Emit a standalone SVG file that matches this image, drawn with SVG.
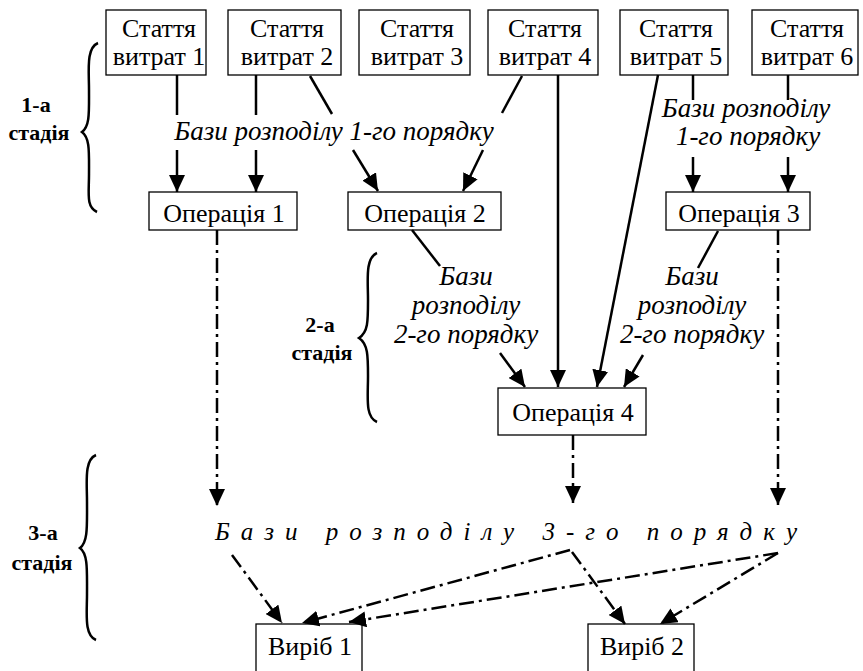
<svg xmlns="http://www.w3.org/2000/svg" width="863" height="671" viewBox="0 0 863 671">
  <style>
    .box { fill: #fff; stroke: #000; stroke-width: 1.3; }
    text { font-family: "Liberation Serif", "Times New Roman", serif; fill: #000; }
    .t { font-size: 26px; text-anchor: middle; }
    .it { font-size: 27px; font-style: italic; text-anchor: middle; }
    .st { font-size: 22px; font-weight: bold; text-anchor: middle; }
    .ln { stroke: #000; stroke-width: 2.5; fill: none; }
    .dd { stroke: #000; stroke-width: 2.5; fill: none; stroke-dasharray: 15 5 3 5; }
    .arr { marker-end: url(#ah); }
    .brace { stroke: #000; stroke-width: 2.5; fill: none; }
  </style>
  <defs>
    <marker id="ah" markerUnits="userSpaceOnUse" markerWidth="17" markerHeight="16" viewBox="0 0 17 16" refX="17" refY="8" orient="auto">
      <path d="M0,0 L17,8 L0,16 z" fill="#000"/>
    </marker>
  </defs>
  <rect width="863" height="671" fill="#fff"/>

  <!-- cost items -->
  <g id="n-st1"><rect class="box" x="106" y="10" width="100" height="65"/><text class="t" x="159" y="37">Стаття</text><text class="t" x="159" y="65">витрат 1</text></g>
  <g id="n-st2"><rect class="box" x="228" y="10" width="113" height="65"/><text class="t" x="287" y="37">Стаття</text><text class="t" x="287" y="65">витрат 2</text></g>
  <g id="n-st3"><rect class="box" x="359" y="10" width="111" height="65"/><text class="t" x="417" y="37">Стаття</text><text class="t" x="417" y="65">витрат 3</text></g>
  <g id="n-st4"><rect class="box" x="488" y="10" width="110" height="65"/><text class="t" x="545" y="37">Стаття</text><text class="t" x="545" y="65">витрат 4</text></g>
  <g id="n-st5"><rect class="box" x="620" y="10" width="108" height="65"/><text class="t" x="676" y="37">Стаття</text><text class="t" x="676" y="65">витрат 5</text></g>
  <g id="n-st6"><rect class="box" x="752" y="10" width="106" height="65"/><text class="t" x="807" y="37">Стаття</text><text class="t" x="807" y="65">витрат 6</text></g>

  <!-- operations -->
  <g id="n-op1"><rect class="box" x="149" y="192" width="148" height="38"/><text class="t" x="224" y="222">Операція 1</text></g>
  <g id="n-op2"><rect class="box" x="348" y="192" width="153" height="38"/><text class="t" x="425" y="222">Операція 2</text></g>
  <g id="n-op3"><rect class="box" x="666" y="192" width="144" height="38"/><text class="t" x="739" y="222">Операція 3</text></g>
  <g id="n-op4"><rect class="box" x="498" y="388" width="148" height="47"/><text class="t" x="573" y="421">Операція 4</text></g>

  <!-- products -->
  <g id="n-vyrib1"><rect class="box" x="256" y="624" width="106" height="52"/><text class="t" x="310" y="655">Виріб 1</text></g>
  <g id="n-vyrib2"><rect class="box" x="588" y="624" width="106" height="52"/><text class="t" x="642" y="655">Виріб 2</text></g>

  <!-- allocation base labels -->
  <g id="labels">
    <text class="it" x="334" y="140">Бази розподілу 1-го порядку</text>
    <text class="it" x="746" y="117">Бази розподілу</text>
    <text class="it" x="748" y="145">1-го порядку</text>
    <text class="it" x="466" y="285">Бази</text>
    <text class="it" x="466" y="314">розподілу</text>
    <text class="it" x="466" y="343">2-го порядку</text>
    <text class="it" x="692" y="285">Бази</text>
    <text class="it" x="692" y="314">розподілу</text>
    <text class="it" x="692" y="343">2-го порядку</text>
    <text class="it" x="215" y="540" style="text-anchor:start;font-size:25px" textLength="582" lengthAdjust="spacing">Бази розподілу 3-го порядку</text>
  </g>

  <!-- stage labels with braces -->
  <g id="stages">
    <text class="st" x="36" y="112">1-а</text>
    <text class="st" x="39" y="140">стадія</text>
    <path class="brace" d="M98,43 C86,48 89,70 89,90 C89,112 90,126 82,132 C90,138 89,152 89,174 C89,194 86,207 97,212"/>
    <text class="st" x="320" y="332">2-а</text>
    <text class="st" x="322" y="360">стадія</text>
    <path class="brace" d="M377,253 C365,258 368,280 368,300 C368,322 368,332 359,338 C368,344 368,356 368,376 C368,398 365,417 377,422"/>
    <text class="st" x="43" y="540">3-а</text>
    <text class="st" x="42" y="570">стадія</text>
    <path class="brace" d="M96,455 C84,460 87,482 87,502 C87,526 88,542 80,548 C88,554 87,570 87,594 C87,614 84,635 96,640"/>
  </g>

  <!-- connectors -->
  <g id="connectors">
    <line class="ln" x1="177" y1="75" x2="177" y2="115"/>
    <line class="ln arr" x1="177" y1="150" x2="177" y2="192"/>
    <line class="ln" x1="256" y1="75" x2="256" y2="115"/>
    <line class="ln arr" x1="256" y1="150" x2="256" y2="192"/>
    <line class="ln" x1="310" y1="76" x2="332" y2="114"/>
    <line class="ln arr" x1="353" y1="150" x2="378" y2="191"/>
    <line class="ln" x1="522" y1="76" x2="502" y2="113"/>
    <line class="ln arr" x1="483" y1="150" x2="463" y2="191"/>
    <line class="ln arr" x1="558" y1="75" x2="558" y2="387"/>
    <line class="ln arr" x1="658" y1="75" x2="597" y2="387"/>
    <line class="ln" x1="693" y1="75" x2="693" y2="100"/>
    <line class="ln arr" x1="693" y1="157" x2="693" y2="192"/>
    <line class="ln" x1="788" y1="75" x2="788" y2="100"/>
    <line class="ln arr" x1="788" y1="157" x2="788" y2="192"/>
    <line class="ln" x1="412" y1="230" x2="440" y2="266"/>
    <line class="ln arr" x1="500" y1="353" x2="525" y2="387"/>
    <line class="ln" x1="718" y1="231" x2="698" y2="268"/>
    <line class="ln arr" x1="643" y1="355" x2="624" y2="387"/>
    <line class="dd arr" x1="217" y1="230" x2="217" y2="506"/>
    <line class="dd arr" x1="573" y1="435" x2="573" y2="503"/>
    <line class="dd arr" x1="778" y1="230" x2="778" y2="505"/>
    <line class="dd arr" x1="232" y1="555" x2="282" y2="623"/>
    <line class="dd arr" x1="570" y1="550" x2="302" y2="623"/>
    <line class="dd arr" x1="778" y1="553" x2="349" y2="622"/>
    <line class="dd arr" x1="572" y1="552" x2="625" y2="624"/>
    <line class="dd arr" x1="778" y1="553" x2="660" y2="624"/>
  </g>
</svg>
